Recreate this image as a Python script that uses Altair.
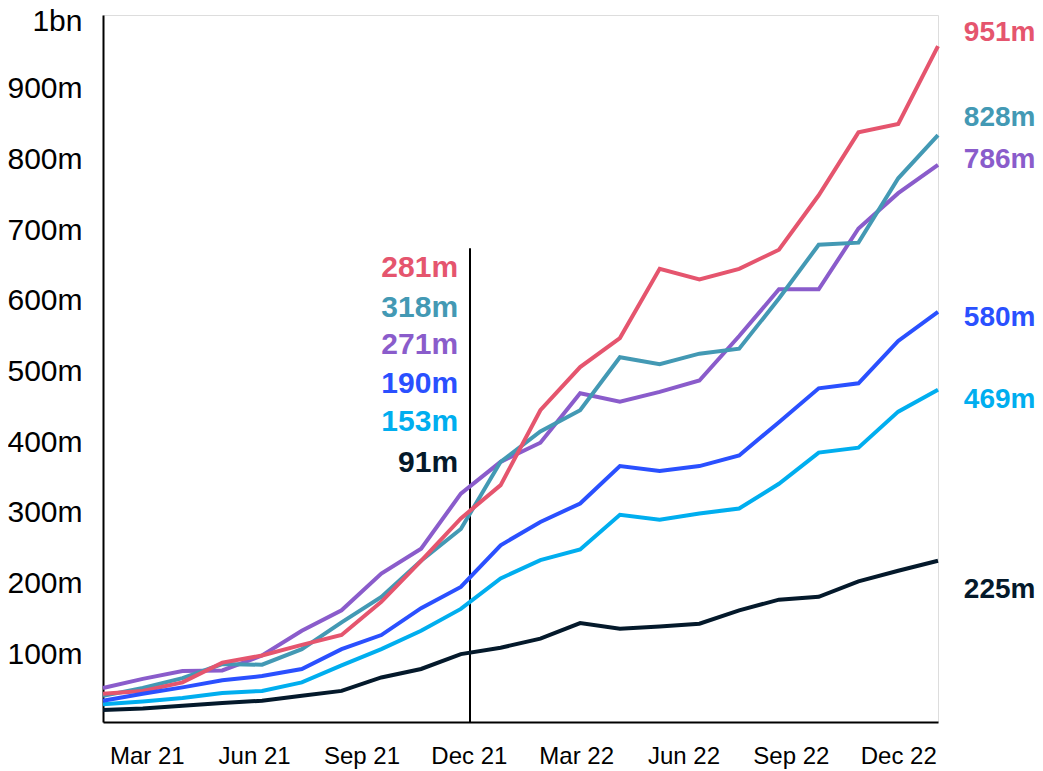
import altair as alt
import pandas as pd

# ---- data (values in millions) ----
series = ["Purple", "Teal", "Red", "Light blue", "Blue", "Dark"]
colors = ["#8A5CCB", "#4399B4", "#E5556E", "#00AEEF", "#2A50FF", "#04192B"]

purple = [48, 61, 72, 73, 94, 129, 158, 210, 245, 323, 368, 395, 465, 453, 467, 483, 546, 612, 612, 698, 748, 788]
teal = [37, 48, 62, 82, 81, 103, 141, 177, 228, 273, 368, 411, 441, 516, 506, 521, 528, 599, 675, 678, 769, 830]
red = [40, 44, 56, 84, 94, 109, 123, 170, 228, 288, 335, 441, 502, 543, 641, 626, 641, 668, 745, 834, 846, 956]
light_blue = [25, 29, 34, 41, 44, 56, 80, 103, 129, 160, 203, 229, 244, 293, 286, 295, 302, 337, 381, 388, 439, 470]
blue = [30, 40, 49, 59, 65, 75, 103, 123, 161, 191, 250, 283, 309, 362, 355, 362, 377, 424, 472, 479, 539, 580]
dark = [17, 19, 23, 27, 30, 37, 44, 63, 75, 96, 105, 118, 140, 132, 135, 139, 158, 173, 177, 199, 214, 228]

tick_pos = [1.1, 3.8, 6.5, 9.2, 11.9, 14.6, 17.3, 20.0]
tick_labels = ["Mar 21", "Jun 21", "Sep 21", "Dec 21", "Mar 22", "Jun 22", "Sep 22", "Dec 22"]

# annotations at the "Dec 21" marker
mid_series = ["Red", "Teal", "Purple", "Blue", "Light blue", "Dark"]
mid_labels = ["281m", "318m", "271m", "190m", "153m", "91m"]
mid_y = [642, 586, 533, 478, 425, 367]
marker_x = 9.23
marker_top = 670
mid_x = 8.93

# end labels
end_series = ["Red", "Teal", "Purple", "Blue", "Light blue", "Dark"]
end_labels = ["951m", "828m", "786m", "580m", "469m", "225m"]
end_y = [975, 854, 795, 571, 455, 187]
end_x = 21.65

# ---- tables ----
values = [purple, teal, red, light_blue, blue, dark]
rows = []
for name, vals in zip(series, values):
    for i, v in enumerate(vals):
        rows.append({"t": i, "value": v, "series": name})
df = pd.DataFrame(rows)

mid_df = pd.DataFrame({"series": mid_series, "label": mid_labels, "y": mid_y, "x": [mid_x] * len(mid_series)})
end_df = pd.DataFrame({"series": end_series, "label": end_labels, "y": end_y, "x": [end_x] * len(end_series)})
rule_df = pd.DataFrame({"x": [marker_x], "y": [0], "y2": [marker_top]})

color_scale = alt.Scale(domain=series, range=colors)
x_scale = alt.Scale(domain=[0, 21], nice=False, zero=False)
y_scale = alt.Scale(domain=[0, 1000], nice=False)

label_js = "[" + ",".join("'%s'" % s for s in tick_labels) + "]"
pos_js = "[" + ",".join(str(p) for p in tick_pos) + "]"

x_axis = alt.Axis(
    values=tick_pos,
    labelExpr=f"{label_js}[indexof({pos_js}, datum.value)]",
    grid=False, ticks=False, tickSize=0,
    domainColor="black", domainWidth=2,
    labelFontSize=24, labelColor="black", labelPadding=22,
    labelFont="Liberation Sans", title=None,
)
y_axis = alt.Axis(
    values=[100, 200, 300, 400, 500, 600, 700, 800, 900, 1000],
    labelExpr="datum.value == 1000 ? '1bn' : datum.value + 'm'",
    grid=False, ticks=False, tickSize=0,
    domainColor="black", domainWidth=2,
    labelFontSize=30, labelColor="black", labelPadding=21,
    labelOffset={"condition": {"test": "datum.value == 1000", "value": 6}, "value": 3},
    labelFont="Liberation Sans", title=None,
)

lines = alt.Chart(df).mark_line(strokeWidth=4, strokeJoin="miter").encode(
    x=alt.X("t:Q", scale=x_scale, axis=x_axis),
    y=alt.Y("value:Q", scale=y_scale, axis=y_axis),
    color=alt.Color("series:N", scale=color_scale, legend=None, sort=series),
    order=alt.Order("t:Q"),
)

rule = alt.Chart(rule_df).mark_rule(color="black", strokeWidth=2).encode(
    x=alt.X("x:Q", scale=x_scale),
    y=alt.Y("y:Q", scale=y_scale),
    y2="y2:Q",
)

mid_text = alt.Chart(mid_df).mark_text(
    align="right", baseline="middle", fontSize=30, fontWeight="bold", font="Liberation Sans"
).encode(
    x=alt.X("x:Q", scale=x_scale),
    y=alt.Y("y:Q", scale=y_scale),
    text="label:N",
    color=alt.Color("series:N", scale=color_scale, legend=None),
)

end_text = alt.Chart(end_df).mark_text(
    align="left", baseline="middle", fontSize=28, fontWeight="bold", font="Liberation Sans"
).encode(
    x=alt.X("x:Q", scale=x_scale),
    y=alt.Y("y:Q", scale=y_scale),
    text="label:N",
    color=alt.Color("series:N", scale=color_scale, legend=None),
)

chart = alt.layer(rule, lines, mid_text, end_text).properties(
    width=835,
    height=707,
    autosize=alt.AutoSizeParams(type="none"),
    padding={"left": 95, "top": 7, "right": 97, "bottom": 48},
).configure_view(stroke=None).configure(font="Liberation Sans")

chart.save("out.html", embed_options={"renderer": "svg", "actions": False})
